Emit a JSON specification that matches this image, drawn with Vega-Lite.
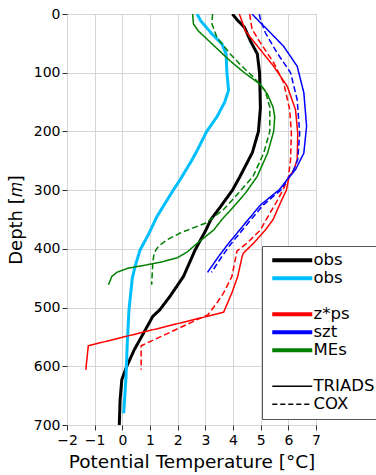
{
  "$schema": "https://vega.github.io/schema/vega-lite/v6.json",
  "width": 249,
  "height": 411,
  "autosize": {"type": "none"},
  "padding": {"left": 67, "top": 14, "right": 60, "bottom": 50},
  "background": "white",
  "config": {
    "font": "DejaVu Sans",
    "view": {"stroke": "#333", "strokeWidth": 1},
    "axis": {
      "domain": false,
      "grid": true,
      "gridColor": "#d6d6d6",
      "gridWidth": 1,
      "tickColor": "#333",
      "tickSize": 5,
      "labelFontSize": 14,
      "labelColor": "black",
      "labelOverlap": false,
      "labelFlush": false,
      "titleFontSize": 18,
      "titleFontWeight": "normal",
      "titleColor": "black"
    }
  },
  "data": {
    "values": [
      {"series": "obs", "scheme": "obs", "depth": 0, "temp": 3.98},
      {"series": "obs", "scheme": "obs", "depth": 10, "temp": 4.15},
      {"series": "obs", "scheme": "obs", "depth": 23, "temp": 4.42},
      {"series": "obs", "scheme": "obs", "depth": 46, "temp": 4.63},
      {"series": "obs", "scheme": "obs", "depth": 68, "temp": 4.88},
      {"series": "obs", "scheme": "obs", "depth": 100, "temp": 4.96},
      {"series": "obs", "scheme": "obs", "depth": 160, "temp": 4.99},
      {"series": "obs", "scheme": "obs", "depth": 200, "temp": 4.92},
      {"series": "obs", "scheme": "obs", "depth": 236, "temp": 4.7},
      {"series": "obs", "scheme": "obs", "depth": 277, "temp": 4.25},
      {"series": "obs", "scheme": "obs", "depth": 300, "temp": 3.98},
      {"series": "obs", "scheme": "obs", "depth": 330, "temp": 3.52},
      {"series": "obs", "scheme": "obs", "depth": 350, "temp": 3.2},
      {"series": "obs", "scheme": "obs", "depth": 368, "temp": 3.02},
      {"series": "obs", "scheme": "obs", "depth": 402, "temp": 2.63},
      {"series": "obs", "scheme": "obs", "depth": 447, "temp": 2.21},
      {"series": "obs", "scheme": "obs", "depth": 481, "temp": 1.72},
      {"series": "obs", "scheme": "obs", "depth": 504, "temp": 1.35},
      {"series": "obs", "scheme": "obs", "depth": 515, "temp": 1.1},
      {"series": "obs", "scheme": "obs", "depth": 544, "temp": 0.76},
      {"series": "obs", "scheme": "obs", "depth": 572, "temp": 0.43},
      {"series": "obs", "scheme": "obs", "depth": 600, "temp": 0.16},
      {"series": "obs", "scheme": "obs", "depth": 623, "temp": -0.02},
      {"series": "obs", "scheme": "obs", "depth": 657, "temp": -0.08},
      {"series": "obs", "scheme": "obs", "depth": 700, "temp": -0.11},

      {"series": "obs2", "scheme": "obs", "depth": 0, "temp": 2.7},
      {"series": "obs2", "scheme": "obs", "depth": 12, "temp": 2.84},
      {"series": "obs2", "scheme": "obs", "depth": 34, "temp": 3.24},
      {"series": "obs2", "scheme": "obs", "depth": 51, "temp": 3.6},
      {"series": "obs2", "scheme": "obs", "depth": 68, "temp": 3.75},
      {"series": "obs2", "scheme": "obs", "depth": 100, "temp": 3.78},
      {"series": "obs2", "scheme": "obs", "depth": 130, "temp": 3.84},
      {"series": "obs2", "scheme": "obs", "depth": 150, "temp": 3.7},
      {"series": "obs2", "scheme": "obs", "depth": 175, "temp": 3.42},
      {"series": "obs2", "scheme": "obs", "depth": 200, "temp": 3.05},
      {"series": "obs2", "scheme": "obs", "depth": 231, "temp": 2.72},
      {"series": "obs2", "scheme": "obs", "depth": 250, "temp": 2.5},
      {"series": "obs2", "scheme": "obs", "depth": 282, "temp": 2.09},
      {"series": "obs2", "scheme": "obs", "depth": 300, "temp": 1.84},
      {"series": "obs2", "scheme": "obs", "depth": 345, "temp": 1.25},
      {"series": "obs2", "scheme": "obs", "depth": 375, "temp": 0.95},
      {"series": "obs2", "scheme": "obs", "depth": 402, "temp": 0.64},
      {"series": "obs2", "scheme": "obs", "depth": 430, "temp": 0.46},
      {"series": "obs2", "scheme": "obs", "depth": 450, "temp": 0.36},
      {"series": "obs2", "scheme": "obs", "depth": 504, "temp": 0.24},
      {"series": "obs2", "scheme": "obs", "depth": 560, "temp": 0.18},
      {"series": "obs2", "scheme": "obs", "depth": 620, "temp": 0.13},
      {"series": "obs2", "scheme": "obs", "depth": 680, "temp": 0.05},

      {"series": "MEs", "scheme": "TRIADS", "depth": 0, "temp": 2.54},
      {"series": "MEs", "scheme": "TRIADS", "depth": 17, "temp": 2.57},
      {"series": "MEs", "scheme": "TRIADS", "depth": 29, "temp": 2.75},
      {"series": "MEs", "scheme": "TRIADS", "depth": 57, "temp": 3.38},
      {"series": "MEs", "scheme": "TRIADS", "depth": 80, "temp": 3.9},
      {"series": "MEs", "scheme": "TRIADS", "depth": 100, "temp": 4.41},
      {"series": "MEs", "scheme": "TRIADS", "depth": 120, "temp": 4.99},
      {"series": "MEs", "scheme": "TRIADS", "depth": 137, "temp": 5.25},
      {"series": "MEs", "scheme": "TRIADS", "depth": 159, "temp": 5.45},
      {"series": "MEs", "scheme": "TRIADS", "depth": 176, "temp": 5.51},
      {"series": "MEs", "scheme": "TRIADS", "depth": 200, "temp": 5.47},
      {"series": "MEs", "scheme": "TRIADS", "depth": 237, "temp": 5.25},
      {"series": "MEs", "scheme": "TRIADS", "depth": 277, "temp": 4.87},
      {"series": "MEs", "scheme": "TRIADS", "depth": 305, "temp": 4.45},
      {"series": "MEs", "scheme": "TRIADS", "depth": 333, "temp": 3.93},
      {"series": "MEs", "scheme": "TRIADS", "depth": 350, "temp": 3.6},
      {"series": "MEs", "scheme": "TRIADS", "depth": 368, "temp": 3.3},
      {"series": "MEs", "scheme": "TRIADS", "depth": 390, "temp": 2.72},
      {"series": "MEs", "scheme": "TRIADS", "depth": 405, "temp": 2.35},
      {"series": "MEs", "scheme": "TRIADS", "depth": 415, "temp": 2.0},
      {"series": "MEs", "scheme": "TRIADS", "depth": 422, "temp": 1.45},
      {"series": "MEs", "scheme": "TRIADS", "depth": 428, "temp": 0.8},
      {"series": "MEs", "scheme": "TRIADS", "depth": 433, "temp": 0.2},
      {"series": "MEs", "scheme": "TRIADS", "depth": 440, "temp": -0.2},
      {"series": "MEs", "scheme": "TRIADS", "depth": 447, "temp": -0.38},
      {"series": "MEs", "scheme": "TRIADS", "depth": 461, "temp": -0.5},

      {"series": "MEs", "scheme": "COX", "depth": 0, "temp": 3.26},
      {"series": "MEs", "scheme": "COX", "depth": 17, "temp": 3.24},
      {"series": "MEs", "scheme": "COX", "depth": 40, "temp": 3.42},
      {"series": "MEs", "scheme": "COX", "depth": 68, "temp": 3.9},
      {"series": "MEs", "scheme": "COX", "depth": 86, "temp": 4.26},
      {"series": "MEs", "scheme": "COX", "depth": 108, "temp": 4.75},
      {"series": "MEs", "scheme": "COX", "depth": 131, "temp": 5.17},
      {"series": "MEs", "scheme": "COX", "depth": 159, "temp": 5.33},
      {"series": "MEs", "scheme": "COX", "depth": 200, "temp": 5.33},
      {"series": "MEs", "scheme": "COX", "depth": 237, "temp": 5.11},
      {"series": "MEs", "scheme": "COX", "depth": 277, "temp": 4.72},
      {"series": "MEs", "scheme": "COX", "depth": 305, "temp": 4.2},
      {"series": "MEs", "scheme": "COX", "depth": 333, "temp": 3.66},
      {"series": "MEs", "scheme": "COX", "depth": 356, "temp": 3.02},
      {"series": "MEs", "scheme": "COX", "depth": 373, "temp": 2.09},
      {"series": "MEs", "scheme": "COX", "depth": 385, "temp": 1.6},
      {"series": "MEs", "scheme": "COX", "depth": 396, "temp": 1.3},
      {"series": "MEs", "scheme": "COX", "depth": 407, "temp": 1.15},
      {"series": "MEs", "scheme": "COX", "depth": 424, "temp": 1.1},
      {"series": "MEs", "scheme": "COX", "depth": 461, "temp": 1.06},

      {"series": "z*ps", "scheme": "TRIADS", "depth": 0, "temp": 4.23},
      {"series": "z*ps", "scheme": "TRIADS", "depth": 29, "temp": 4.45},
      {"series": "z*ps", "scheme": "TRIADS", "depth": 61, "temp": 4.99},
      {"series": "z*ps", "scheme": "TRIADS", "depth": 89, "temp": 5.47},
      {"series": "z*ps", "scheme": "TRIADS", "depth": 123, "temp": 5.96},
      {"series": "z*ps", "scheme": "TRIADS", "depth": 163, "temp": 6.26},
      {"series": "z*ps", "scheme": "TRIADS", "depth": 203, "temp": 6.34},
      {"series": "z*ps", "scheme": "TRIADS", "depth": 248, "temp": 6.32},
      {"series": "z*ps", "scheme": "TRIADS", "depth": 265, "temp": 6.2},
      {"series": "z*ps", "scheme": "TRIADS", "depth": 279, "temp": 6.02},
      {"series": "z*ps", "scheme": "TRIADS", "depth": 300, "temp": 5.93},
      {"series": "z*ps", "scheme": "TRIADS", "depth": 322, "temp": 5.71},
      {"series": "z*ps", "scheme": "TRIADS", "depth": 350, "temp": 5.45},
      {"series": "z*ps", "scheme": "TRIADS", "depth": 368, "temp": 5.17},
      {"series": "z*ps", "scheme": "TRIADS", "depth": 390, "temp": 4.75},
      {"series": "z*ps", "scheme": "TRIADS", "depth": 407, "temp": 4.38},
      {"series": "z*ps", "scheme": "TRIADS", "depth": 413, "temp": 4.33},
      {"series": "z*ps", "scheme": "TRIADS", "depth": 447, "temp": 4.17},
      {"series": "z*ps", "scheme": "TRIADS", "depth": 475, "temp": 3.96},
      {"series": "z*ps", "scheme": "TRIADS", "depth": 508, "temp": 3.66},
      {"series": "z*ps", "scheme": "TRIADS", "depth": 565, "temp": -1.23},
      {"series": "z*ps", "scheme": "TRIADS", "depth": 606, "temp": -1.32},

      {"series": "z*ps", "scheme": "COX", "depth": 0, "temp": 4.6},
      {"series": "z*ps", "scheme": "COX", "depth": 26, "temp": 4.69},
      {"series": "z*ps", "scheme": "COX", "depth": 49, "temp": 4.99},
      {"series": "z*ps", "scheme": "COX", "depth": 83, "temp": 5.47},
      {"series": "z*ps", "scheme": "COX", "depth": 117, "temp": 5.83},
      {"series": "z*ps", "scheme": "COX", "depth": 163, "temp": 6.05},
      {"series": "z*ps", "scheme": "COX", "depth": 203, "temp": 6.11},
      {"series": "z*ps", "scheme": "COX", "depth": 248, "temp": 6.08},
      {"series": "z*ps", "scheme": "COX", "depth": 279, "temp": 6.0},
      {"series": "z*ps", "scheme": "COX", "depth": 300, "temp": 5.8},
      {"series": "z*ps", "scheme": "COX", "depth": 322, "temp": 5.55},
      {"series": "z*ps", "scheme": "COX", "depth": 350, "temp": 5.2},
      {"series": "z*ps", "scheme": "COX", "depth": 368, "temp": 4.99},
      {"series": "z*ps", "scheme": "COX", "depth": 390, "temp": 4.51},
      {"series": "z*ps", "scheme": "COX", "depth": 404, "temp": 4.14},
      {"series": "z*ps", "scheme": "COX", "depth": 419, "temp": 4.08},
      {"series": "z*ps", "scheme": "COX", "depth": 447, "temp": 3.96},
      {"series": "z*ps", "scheme": "COX", "depth": 475, "temp": 3.66},
      {"series": "z*ps", "scheme": "COX", "depth": 490, "temp": 3.45},
      {"series": "z*ps", "scheme": "COX", "depth": 512, "temp": 3.1},
      {"series": "z*ps", "scheme": "COX", "depth": 565, "temp": 0.68},
      {"series": "z*ps", "scheme": "COX", "depth": 606, "temp": 0.68},

      {"series": "szt", "scheme": "TRIADS", "depth": 0, "temp": 4.69},
      {"series": "szt", "scheme": "TRIADS", "depth": 9, "temp": 4.87},
      {"series": "szt", "scheme": "TRIADS", "depth": 26, "temp": 5.23},
      {"series": "szt", "scheme": "TRIADS", "depth": 55, "temp": 5.83},
      {"series": "szt", "scheme": "TRIADS", "depth": 89, "temp": 6.32},
      {"series": "szt", "scheme": "TRIADS", "depth": 134, "temp": 6.56},
      {"series": "szt", "scheme": "TRIADS", "depth": 191, "temp": 6.66},
      {"series": "szt", "scheme": "TRIADS", "depth": 237, "temp": 6.56},
      {"series": "szt", "scheme": "TRIADS", "depth": 265, "temp": 6.26},
      {"series": "szt", "scheme": "TRIADS", "depth": 279, "temp": 6.01},
      {"series": "szt", "scheme": "TRIADS", "depth": 299, "temp": 5.68},
      {"series": "szt", "scheme": "TRIADS", "depth": 325, "temp": 5.0},
      {"series": "szt", "scheme": "TRIADS", "depth": 353, "temp": 4.5},
      {"series": "szt", "scheme": "TRIADS", "depth": 393, "temp": 3.8},
      {"series": "szt", "scheme": "TRIADS", "depth": 413, "temp": 3.48},
      {"series": "szt", "scheme": "TRIADS", "depth": 440, "temp": 3.08},

      {"series": "szt", "scheme": "COX", "depth": 0, "temp": 4.95},
      {"series": "szt", "scheme": "COX", "depth": 9, "temp": 4.99},
      {"series": "szt", "scheme": "COX", "depth": 32, "temp": 5.17},
      {"series": "szt", "scheme": "COX", "depth": 66, "temp": 5.59},
      {"series": "szt", "scheme": "COX", "depth": 100, "temp": 6.08},
      {"series": "szt", "scheme": "COX", "depth": 146, "temp": 6.32},
      {"series": "szt", "scheme": "COX", "depth": 203, "temp": 6.41},
      {"series": "szt", "scheme": "COX", "depth": 248, "temp": 6.34},
      {"series": "szt", "scheme": "COX", "depth": 265, "temp": 6.2},
      {"series": "szt", "scheme": "COX", "depth": 279, "temp": 6.0},
      {"series": "szt", "scheme": "COX", "depth": 299, "temp": 5.75},
      {"series": "szt", "scheme": "COX", "depth": 325, "temp": 5.1},
      {"series": "szt", "scheme": "COX", "depth": 353, "temp": 4.6},
      {"series": "szt", "scheme": "COX", "depth": 393, "temp": 3.9},
      {"series": "szt", "scheme": "COX", "depth": 413, "temp": 3.6},
      {"series": "szt", "scheme": "COX", "depth": 440, "temp": 3.22}
    ]
  },
  "mark": {"type": "line", "clip": true},
  "encoding": {
    "x": {
      "field": "temp",
      "type": "quantitative",
      "scale": {"domain": [-2, 7], "nice": false, "zero": false},
      "axis": {
        "title": "Potential Temperature [°C]",
        "titleFontSize": 18.5,
        "values": [-2, -1, 0, 1, 2, 3, 4, 5, 6, 7],
        "labelPadding": 3,
        "titlePadding": 5
      }
    },
    "y": {
      "field": "depth",
      "type": "quantitative",
      "scale": {"domain": [0, 700], "reverse": true, "nice": false},
      "axis": {
        "title": "Depth [𝑚]",
        "values": [0, 100, 200, 300, 400, 500, 600, 700],
        "labelPadding": 2,
        "titlePadding": 8
      }
    },
    "order": {"field": "depth", "type": "quantitative"},
    "color": {
      "field": "series",
      "type": "nominal",
      "scale": {
        "domain": ["obs", "obs2", "gap1", "z*ps", "szt", "MEs", "gap2", "TRIADS", "COX"],
        "range": ["#000000", "#00bfff", "transparent", "#ff0000", "#0000ff", "#008000", "transparent", "#000000", "#000000"]
      },
      "legend": {
        "title": null,
        "orient": "none",
        "legendX": 195,
        "legendY": 232,
        "direction": "vertical",
        "symbolType": "stroke",
        "symbolSize": 1600,
        "symbolStrokeWidth": 4,
        "symbolOffset": 16,
        "labelFontSize": 16.5,
        "labelColor": "black",
        "labelOffset": 13,
        "labelLimit": 200,
        "rowPadding": 1,
        "padding": 6,
        "strokeColor": "#555",
        "fillColor": "white",
        "cornerRadius": 0,
        "labelExpr": "datum.value == 'obs2' ? 'obs' : (indexof(datum.value, 'gap') == 0 ? ' ' : datum.value)",
        "encode": {
          "symbols": {
            "update": {
              "strokeWidth": {"signal": "datum.value == 'TRIADS' || datum.value == 'COX' ? 1.5 : 4"},
              "strokeDash": {"signal": "datum.value == 'COX' ? [5, 3] : [100, 0]"}
            }
          }
        }
      }
    },
    "strokeDash": {
      "field": "scheme",
      "type": "nominal",
      "scale": {"domain": ["obs", "TRIADS", "COX"], "range": [[1, 0], [1, 0], [6, 3]]},
      "legend": null
    },
    "strokeWidth": {
      "field": "series",
      "type": "nominal",
      "scale": {"type": "ordinal", "domain": ["obs", "obs2", "z*ps", "szt", "MEs"], "range": [3, 3, 1.5, 1.5, 1.5]},
      "legend": null
    }
  }
}
